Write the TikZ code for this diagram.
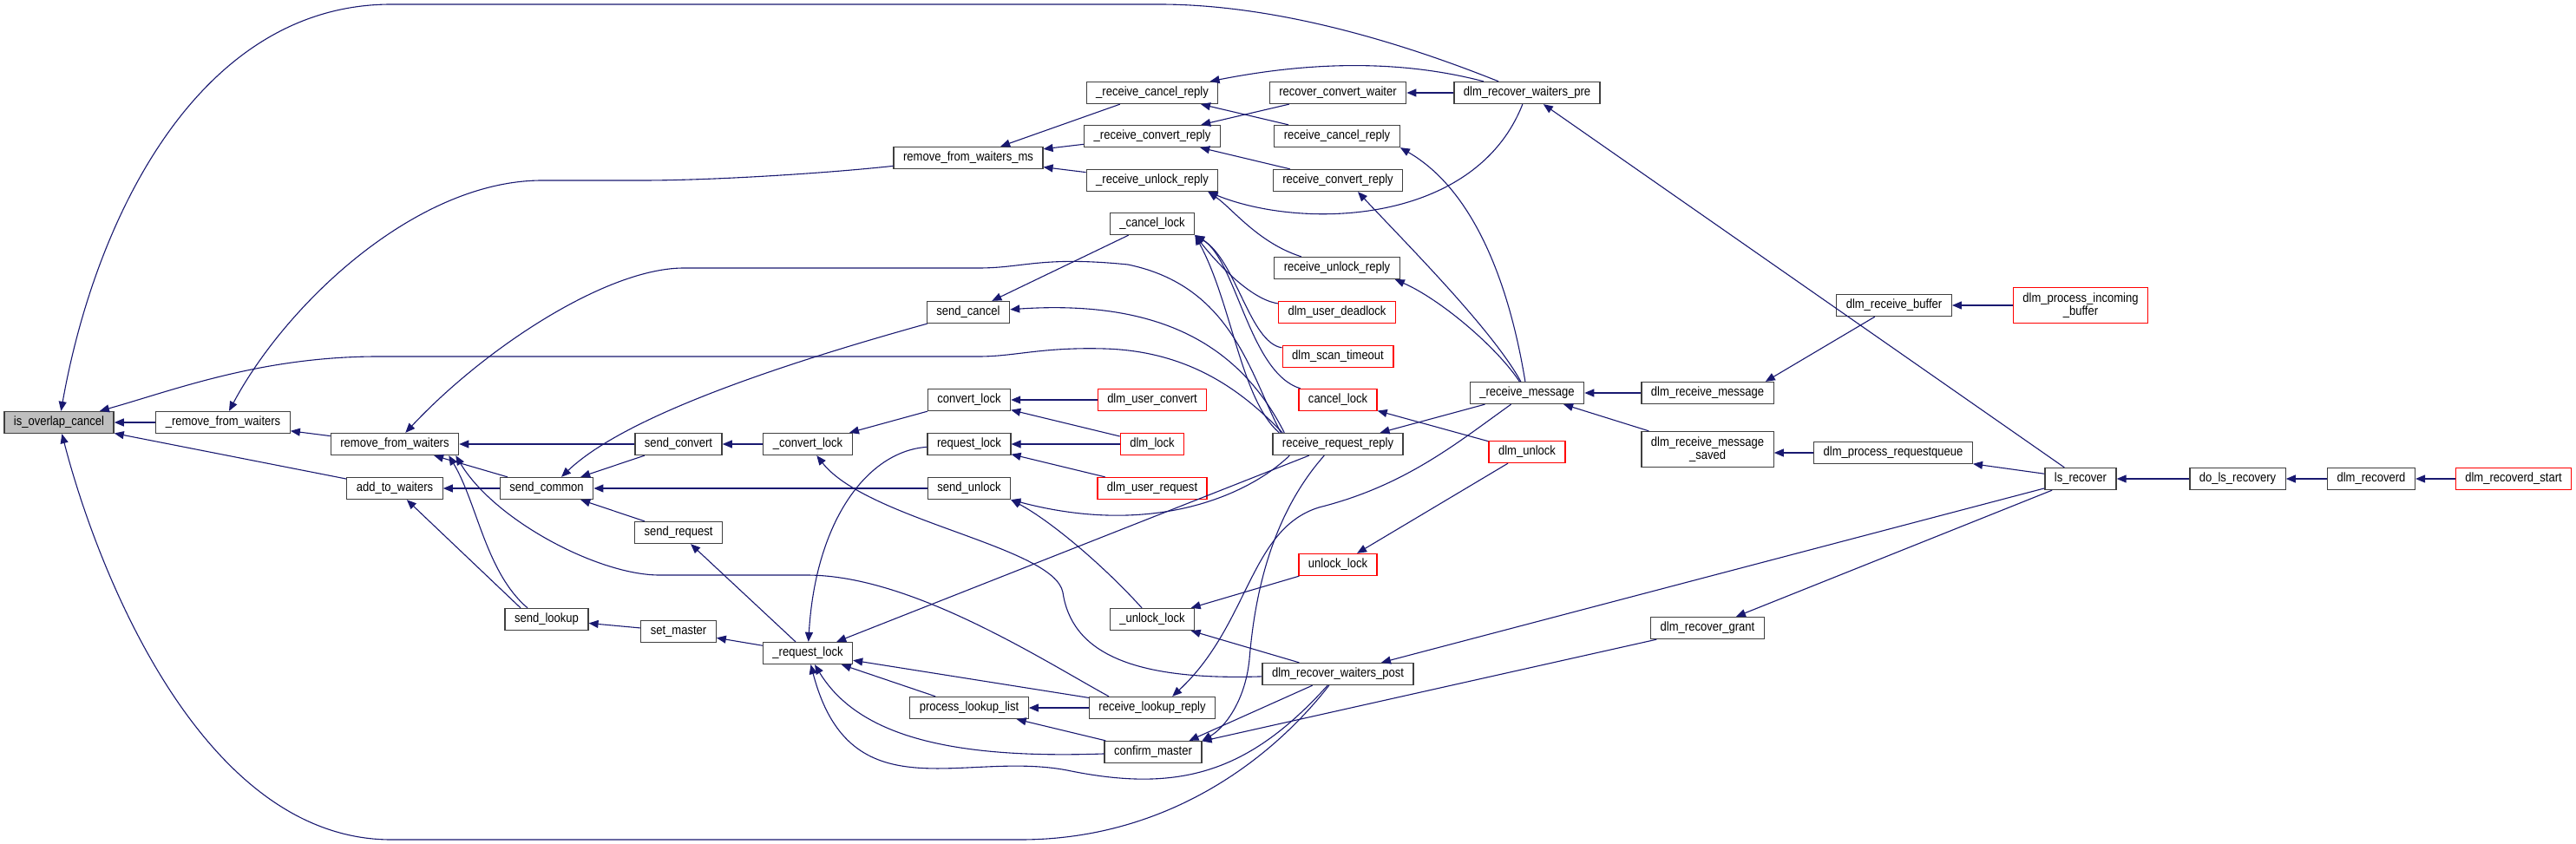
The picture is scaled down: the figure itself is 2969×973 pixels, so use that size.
\documentclass[tikz,border=0pt]{standalone}
\usepackage{fontspec}
\setmainfont[FakeStretch=0.88]{Liberation Sans}
\usetikzlibrary{arrows.meta}
\definecolor{edgeblue}{HTML}{191970}
\definecolor{boxgray}{HTML}{BFBFBF}

\begin{document}
\begin{tikzpicture}[x=1pt, y=-1pt,
  every node/.style={font=\fontsize{14.8}{13.6}\selectfont},
  fn/.style={draw=black!75, line width=1.3pt, fill=white, minimum height=25pt, inner xsep=11pt, inner ysep=1pt, align=center},
  ext/.style={fn, draw=red},
  cur/.style={fn, fill=boxgray},
  two/.style={minimum height=41pt},
  call/.style={draw=edgeblue, line width=1.1pt, -{Triangle[length=11pt,width=9pt]}}]
\useasboundingbox (0,0) rectangle (2969,973);
\node[cur] (ioc) at (68,487) {is\_overlap\_cancel};
\node[fn] (xrfw) at (257,487) {\_remove\_from\_waiters};
\node[fn] (rfw) at (455,512) {remove\_from\_waiters};
\node[fn] (atw) at (455,563) {add\_to\_waiters};
\node[fn] (scom) at (630,563) {send\_common};
\node[fn] (slook) at (630,714) {send\_lookup};
\node[fn] (sconv) at (782,512) {send\_convert};
\node[fn] (sreq) at (782,614) {send\_request};
\node[fn] (smast) at (782,728) {set\_master};
\node[fn] (xconv) at (931,512) {\_convert\_lock};
\node[fn] (xreq) at (931,753) {\_request\_lock};
\node[fn] (rfwms) at (1116,182) {remove\_from\_waiters\_ms};
\node[fn] (scanc) at (1116,360) {send\_cancel};
\node[fn] (conv) at (1117,461) {convert\_lock};
\node[fn] (req) at (1117,512) {request\_lock};
\node[fn] (sunl) at (1117,563) {send\_unlock};
\node[fn] (pll) at (1117,816) {process\_lookup\_list};
\node[fn] (xrcr) at (1328,107) {\_receive\_cancel\_reply};
\node[fn] (xrcv) at (1328,157) {\_receive\_convert\_reply};
\node[fn] (xrur) at (1328,208) {\_receive\_unlock\_reply};
\node[fn] (xcan) at (1328,258) {\_cancel\_lock};
\node[ext] (uconv) at (1328,461) {dlm\_user\_convert};
\node[ext] (dlock) at (1328,512) {dlm\_lock};
\node[ext] (ureq) at (1328,563) {dlm\_user\_request};
\node[fn] (xunl) at (1328,714) {\_unlock\_lock};
\node[fn] (rlr) at (1328,816) {receive\_lookup\_reply};
\node[fn] (cm) at (1329,867) {confirm\_master};
\node[fn] (rcw) at (1542,107) {recover\_convert\_waiter};
\node[fn] (rcr) at (1541,157) {receive\_cancel\_reply};
\node[fn] (rcv) at (1542,208) {receive\_convert\_reply};
\node[fn] (rur) at (1541,309) {receive\_unlock\_reply};
\node[ext] (udead) at (1541,360) {dlm\_user\_deadlock};
\node[ext] (tmo) at (1542,411) {dlm\_scan\_timeout};
\node[ext] (canl) at (1542,461) {cancel\_lock};
\node[fn] (rrr) at (1542,512) {receive\_request\_reply};
\node[ext] (unl) at (1542,651) {unlock\_lock};
\node[fn] (wpost) at (1542,777) {dlm\_recover\_waiters\_post};
\node[fn] (wpre) at (1760,107) {dlm\_recover\_waiters\_pre};
\node[fn] (xmsg) at (1760,453) {\_receive\_message};
\node[ext] (dunl) at (1760,521) {dlm\_unlock};
\node[fn] (rmsg) at (1968,453) {dlm\_receive\_message};
\node[fn, two] (rmsgs) at (1968,518) {dlm\_receive\_message\\\_saved};
\node[fn] (grant) at (1968,724) {dlm\_recover\_grant};
\node[fn] (rbuf) at (2183,352) {dlm\_receive\_buffer};
\node[fn] (rqueue) at (2182,522) {dlm\_process\_requestqueue};
\node[ext, two] (inbuf) at (2398,352) {dlm\_process\_incoming\\\_buffer};
\node[fn] (lsrec) at (2398,552) {ls\_recover};
\node[fn] (dorec) at (2579,552) {do\_ls\_recovery};
\node[fn] (recd) at (2733,552) {dlm\_recoverd};
\node[ext] (recds) at (2897,552) {dlm\_recoverd\_start};

\draw[call] (xrfw) -- (ioc);
\draw[call] (atw) -- (ioc);
\draw[call] (wpre) .. controls (1630,55) and (1480,5) .. (1336,5) -- (451,5) .. controls (230,5) and (110,250) .. (ioc);
\draw[call] ([xshift=12pt]rrr.north west) .. controls (1440,460) and (1380,405) .. (1273,402) .. controls (1200,400) and (1170,411) .. (1128,411) -- (436,411) .. controls (300,411) and (200,450) .. (ioc);
\draw[call] (wpost) .. controls (1470,870) and (1350,968) .. (1176,968) -- (451,968) .. controls (230,968) and (110,650) .. (ioc);
\draw[call] (rfw) -- (xrfw);
\draw[call] (rfwms) .. controls (950,200) and (820,208) .. (740,208) -- (625,208) .. controls (480,208) and (330,350) .. (xrfw);
\draw[call] (xrcr) -- (rfwms);
\draw[call] (xrcv) -- (rfwms);
\draw[call] (xrur) -- (rfwms);
\draw[call] (wpre) .. controls (1600,65) and (1490,75) .. (xrcr);
\draw[call] (rcr) -- (xrcr);
\draw[call] (rcw) -- (xrcv);
\draw[call] (rcv) -- (xrcv);
\draw[call] (wpre) .. controls (1700,260) and (1500,265) .. ([xshift=-12pt]xrur.south east);
\draw[call] (rur) .. controls (1450,280) and (1420,240) .. ([xshift=-12pt]xrur.south east);
\draw[call] (wpre) -- (rcw);
\draw[call] (xmsg) .. controls (1740,330) and (1700,220) .. (rcr.south east);
\draw[call] (xmsg) .. controls (1720,380) and (1620,280) .. ([xshift=23pt]rcv.south);
\draw[call] (xmsg) .. controls (1725,400) and (1660,345) .. ([xshift=-6pt]rur.south east);
\draw[call] (lsrec) -- (wpre);
\draw[call] (sconv) -- (rfw);
\draw[call] (scom) -- (rfw);
\draw[call] ([xshift=-22pt]slook.north) .. controls (560,660) and (550,580) .. ([xshift=-12pt]rfw.south east);
\draw[call] ([xshift=-50pt]rlr.north) .. controls (1200,760) and (1050,663) .. (930,663) -- (760,663) .. controls (690,663) and (570,600) .. ([xshift=-4pt]rfw.south east);
\draw[call] ([xshift=10pt]rrr.north west) .. controls (1440,430) and (1420,330) .. (1300,305) .. controls (1200,295) and (1180,309) .. (1128,309) -- (788,309) .. controls (700,309) and (560,400) .. (rfw);
\draw[call] (scom) -- (atw);
\draw[call] ([xshift=-30pt]slook.north) -- (atw);
\draw[call] (scanc) .. controls (900,420) and (720,480) .. ([xshift=17pt]scom.north);
\draw[call] (sconv) -- (scom);
\draw[call] (sunl) -- (scom);
\draw[call] (sreq) -- (scom);
\draw[call] (smast) -- (slook);
\draw[call] (xreq) -- (smast);
\draw[call] (xreq) -- (sreq);
\draw[call] (xconv) -- (sconv);
\draw[call] (conv) -- (xconv);
\draw[call] (wpost) .. controls (1300,785) and (1235,750) .. (1225,683) .. controls (1215,630) and (1000,600) .. (xconv);
\draw[call] (uconv) -- (conv);
\draw[call] (dlock) -- (conv);
\draw[call] (dlock) -- (req);
\draw[call] (ureq) -- (req);
\draw[call] (req) .. controls (1000,520) and (940,600) .. (xreq);
\draw[call] (xcan) -- (scanc);
\draw[call] ([xshift=14pt]rrr.north west) .. controls (1430,400) and (1340,345) .. (scanc);
\draw[call] (xunl) .. controls (1270,650) and (1210,600) .. (sunl.south east);
\draw[call] ([xshift=20pt]rrr.south west) .. controls (1440,570) and (1330,620) .. (sunl.south east);
\draw[call] (rrr) -- (xreq);
\draw[call] (rlr) -- (xreq);
\draw[call] (pll) -- (xreq);
\draw[call] (cm) .. controls (1100,875) and (990,850) .. (xreq);
\draw[call] (wpost) .. controls (1440,890) and (1360,915) .. (1230,888) .. controls (1110,865) and (980,940) .. (xreq);
\draw[call] (rlr) -- (pll);
\draw[call] (cm) -- (pll);
\draw[call] (xmsg) .. controls (1680,510) and (1620,560) .. (1520,585) .. controls (1440,610) and (1440,720) .. ([xshift=-50pt]rlr.north east);
\draw[call] ([xshift=60pt]rrr.south west) .. controls (1460,600) and (1445,700) .. (1440,760) .. controls (1435,810) and (1410,840) .. (cm.north east);
\draw[call] (wpost) -- ([xshift=-15pt]cm.north east);
\draw[call] (grant) -- (cm);
\draw[call] (unl) -- (xunl);
\draw[call] (wpost) -- (xunl);
\draw[call] (udead) .. controls (1440,345) and (1400,300) .. (xcan.south east);
\draw[call] (tmo) .. controls (1440,395) and (1425,300) .. (xcan.south east);
\draw[call] (canl) .. controls (1440,430) and (1425,300) .. (xcan.south east);
\draw[call] ([xshift=8pt]rrr.north west) .. controls (1430,460) and (1420,350) .. (xcan.south east);
\draw[call] (dunl) -- (canl);
\draw[call] (dunl) -- (unl);
\draw[call] (xmsg) -- (rrr);
\draw[call] (rmsg) -- (xmsg);
\draw[call] (rmsgs) -- (xmsg);
\draw[call] (rbuf) -- ([xshift=-10pt]rmsg.north east);
\draw[call] (inbuf) -- (rbuf);
\draw[call] (rqueue.west) -- (rqueue.west -| rmsgs.east);
\draw[call] (lsrec) -- (rqueue);
\draw[call] (lsrec) -- (wpost);
\draw[call] (lsrec) -- (grant);
\draw[call] (dorec) -- (lsrec);
\draw[call] (recd) -- (dorec);
\draw[call] (recds) -- (recd);
\end{tikzpicture}
\end{document}
